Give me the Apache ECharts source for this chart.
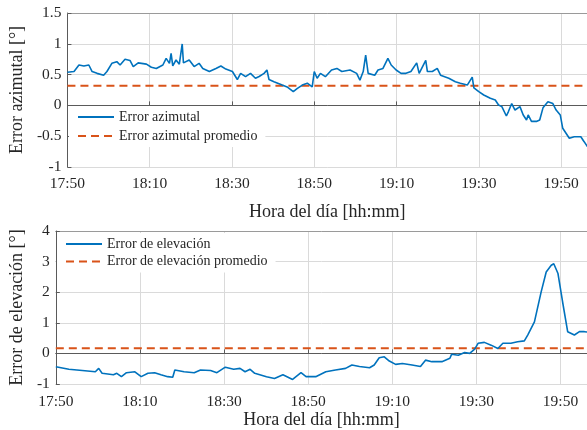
<!DOCTYPE html>
<html>
<head>
<meta charset="utf-8">
<script src="https://cdn.jsdelivr.net/npm/echarts@6/dist/echarts.min.js"></script>
<style>html,body{margin:0;padding:0;background:#fff}#c{width:587px;height:430px}</style>
</head>
<body>
<div id="c"></div>
<script>
// x values are minutes after 17:50
var xTicksStartHour = 17, xTicksStartMin = 50;
var azMinutes = [0,1.6,2.8,4,5.2,6,7.2,8.8,9.6,10.8,12,12.8,14,15.2,16,17.2,19.2,20.4,21.6,23.2,24,24.8,25.2,25.6,26.4,27.2,27.9,28.2,29.6,30.8,32,32.9,34.5,36.1,37.3,38.5,40.1,41.3,42.1,43.3,44.5,45.7,46.6,47.8,48.5,49,50.2,52.2,53.4,54.9,55.9,57.1,58.3,59.5,60,60.7,61.5,62.7,64.2,65.5,66.7,68.7,70.3,71.1,71.9,72.5,73.1,74.7,75.5,76.7,77.9,78.7,79.9,81.1,82.3,83.5,84.9,85.5,87.1,87.5,88.7,89.9,90.7,92.7,94.3,95.5,97.2,98.4,98.8,100,101.2,102.8,104,104.8,105.6,106.7,107.2,108,108.8,110,110.8,111.6,112,112.8,114,114.8,115.6,116.8,118,118.8,119.8,120.4,122,123.2,124.8,125.6,126.4];
var azError = [0.537,0.55,0.656,0.64,0.656,0.55,0.52,0.49,0.55,0.683,0.71,0.656,0.748,0.73,0.63,0.69,0.67,0.62,0.60,0.656,0.764,0.683,0.846,0.64,0.737,0.67,0.997,0.69,0.737,0.63,0.683,0.60,0.55,0.60,0.64,0.59,0.55,0.42,0.52,0.466,0.52,0.44,0.47,0.52,0.575,0.42,0.385,0.33,0.30,0.223,0.275,0.33,0.36,0.30,0.55,0.44,0.52,0.466,0.575,0.60,0.55,0.575,0.52,0.41,0.55,0.818,0.52,0.49,0.575,0.60,0.764,0.656,0.575,0.52,0.52,0.55,0.69,0.52,0.73,0.55,0.55,0.60,0.49,0.44,0.385,0.36,0.33,0.46,0.286,0.223,0.169,0.115,0.088,0.006,-0.02,-0.172,-0.10,0.03,-0.075,-0.02,-0.155,-0.237,-0.155,-0.26,-0.26,-0.237,-0.04,0.06,0.03,-0.075,-0.155,-0.372,-0.534,-0.51,-0.51,-0.589,-0.67];
var azMean = 0.32;
var elMinutes = [0,3.1,6.3,9.4,10.2,11,13.7,14.5,15.6,16.8,18.8,20.3,21.9,23.5,25,26.6,27.8,28.3,30.5,32.9,34.4,36.8,38.3,40.3,42.3,43.8,45,46.2,47.3,50.1,52,54,56.3,58.3,59.5,61.8,64.2,66.5,68.9,70.4,72.2,74.6,75.7,76.9,78.1,79.3,80.8,82.4,84.7,86.7,87.9,89.4,91.8,93.7,94.1,95.7,97.2,98.4,99.6,100.4,101.9,103.5,105.1,106.3,108.2,109.8,111.4,112.2,113.8,115.4,116.6,117.8,118.4,119.4,120.5,121.7,123.3,124.5,125.7,126.4];
var elError = [-0.436,-0.52,-0.56,-0.6,-0.49,-0.65,-0.70,-0.65,-0.76,-0.63,-0.60,-0.76,-0.65,-0.63,-0.70,-0.76,-0.78,-0.54,-0.60,-0.63,-0.54,-0.56,-0.63,-0.45,-0.52,-0.49,-0.60,-0.52,-0.65,-0.76,-0.82,-0.70,-0.85,-0.63,-0.76,-0.76,-0.60,-0.54,-0.49,-0.38,-0.43,-0.47,-0.38,-0.14,-0.11,-0.25,-0.36,-0.33,-0.38,-0.43,-0.22,-0.27,-0.27,-0.16,-0.03,-0.06,0.03,0,0.14,0.33,0.36,0.27,0.16,0.33,0.33,0.38,0.41,0.6,1.03,2.01,2.66,2.88,2.93,2.61,1.68,0.71,0.6,0.71,0.71,0.7];
var elMean = 0.17;
var xMin = 0, xMax = 126.3, xStep = 20;
var azNames = ['Error azimutal', 'Error azimutal promedio'];
var elNames = ['Error de elevación', 'Error de elevación promedio'];

function zip(a, b) { return a.map(function (v, i) { return [v, b[i]]; }); }
function hhmm(m) {
  var tot = xTicksStartHour * 60 + xTicksStartMin + Math.round(m);
  var h = Math.floor(tot / 60), mm = tot % 60;
  return h + ':' + (mm < 10 ? '0' : '') + mm;
}
var FONT = "'Liberation Serif','Times New Roman',serif";
var TXT = '#262626';
var AXC = '#5a5a5a';
var GRC = '#dadada';
var BLUE = '#0072BD', ORANGE = '#D95319';

function xAx(grid, nameGap, labelMargin) {
  return {
    type: 'value', gridIndex: grid, min: xMin, max: xMax, interval: xStep,
    name: 'Hora del día [hh:mm]', nameLocation: 'middle', nameGap: nameGap,
    nameTextStyle: { fontFamily: FONT, fontSize: 18, color: TXT },
    axisLine: { show: true, lineStyle: { color: AXC, width: 1 } },
    axisTick: { show: true, inside: true, length: 4, lineStyle: { color: AXC } },
    axisLabel: { fontFamily: FONT, fontSize: 15.5, color: TXT, margin: labelMargin, formatter: hhmm, showMaxLabel: false },
    splitLine: { show: true, lineStyle: { color: GRC, width: 1 } }
  };
}
function xTop(grid) {
  return {
    type: 'value', gridIndex: grid, position: 'top', min: xMin, max: xMax, interval: xStep,
    axisLine: { show: true, lineStyle: { color: '#9a9a9a', width: 1 } },
    axisTick: { show: false }, axisLabel: { show: false }, splitLine: { show: false }
  };
}
function yAx(grid, min, max, interval, name, nameGap) {
  return {
    type: 'value', gridIndex: grid, min: min, max: max, interval: interval,
    name: name, nameLocation: 'middle', nameGap: nameGap, nameRotate: 90,
    nameTextStyle: { fontFamily: FONT, fontSize: 18, color: TXT },
    axisLine: { show: true, lineStyle: { color: AXC, width: 1 } },
    axisTick: { show: true, inside: true, length: 4, lineStyle: { color: AXC } },
    axisLabel: { fontFamily: FONT, fontSize: 15.5, color: TXT, margin: 6 },
    splitLine: { show: true, lineStyle: { color: GRC, width: 1 } }
  };
}
function legend(names, left, top, gap) {
  return {
    data: names, orient: 'vertical', left: left, top: top,
    itemWidth: 36, itemHeight: 14, itemGap: gap, padding: [4, 8],
    backgroundColor: '#ffffff',
    itemStyle: { opacity: 0, borderWidth: 0 },
    textStyle: { fontFamily: FONT, fontSize: 14, color: TXT },
    selectedMode: false
  };
}

var chart = echarts.init(document.getElementById('c'), null, { renderer: 'canvas' });
chart.setOption({
  animation: false,
  backgroundColor: '#ffffff',
  grid: [
    { left: 61, top: 13, right: 0, height: 154 },
    { left: 49, top: 231, right: 0, height: 153 }
  ],
  xAxis: [xAx(0, 36, 9), xAx(1, 25, 10), xTop(0), xTop(1)],
  yAxis: [
    yAx(0, -1, 1.5, 0.5, 'Error azimutal [°]', 34),
    yAx(1, -1, 4, 1, 'Error de elevación [°]', 23)
  ],
  legend: [legend(azNames, 69, 106, 5), legend(elNames, 57, 233, 3.5)],
  series: [
    { name: azNames[0], type: 'line', xAxisIndex: 0, yAxisIndex: 0, symbol: 'none',
      data: zip(azMinutes, azError), lineStyle: { color: BLUE, width: 1.6 }, itemStyle: { color: BLUE }, z: 3 },
    { name: azNames[1], type: 'line', xAxisIndex: 0, yAxisIndex: 0, symbol: 'none',
      data: [[xMin, azMean], [xMax, azMean]], lineStyle: { color: ORANGE, width: 2, type: [8, 5] }, itemStyle: { color: ORANGE }, z: 2 },
    { name: elNames[0], type: 'line', xAxisIndex: 1, yAxisIndex: 1, symbol: 'none',
      data: zip(elMinutes, elError), lineStyle: { color: BLUE, width: 1.6 }, itemStyle: { color: BLUE }, z: 3 },
    { name: elNames[1], type: 'line', xAxisIndex: 1, yAxisIndex: 1, symbol: 'none',
      data: [[xMin, elMean], [xMax, elMean]], lineStyle: { color: ORANGE, width: 2, type: [8, 5] }, itemStyle: { color: ORANGE }, z: 2 }
  ]
});
</script>
</body>
</html>
